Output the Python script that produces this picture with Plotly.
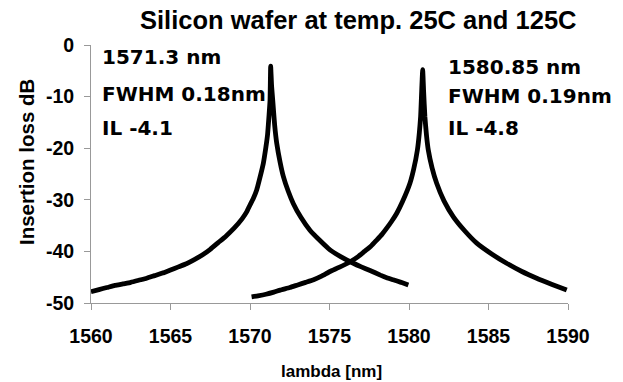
import plotly.graph_objects as go

# ---- data ----
wl_25c = [1560.0, 1560.5, 1561.0, 1561.5, 1562.0, 1562.5, 1563.0, 1563.5, 1564.0,
          1564.5, 1565.0, 1565.5, 1566.0, 1566.5, 1567.0, 1567.5, 1568.0, 1568.5,
          1569.0, 1569.5, 1569.8, 1570.0, 1570.2, 1570.42, 1570.6, 1570.84,
          1571.0, 1571.1, 1571.2, 1571.26, 1571.3,
          1571.36, 1571.43, 1571.55, 1571.68, 1571.9, 1572.1, 1572.4, 1572.72,
          1573.2, 1573.77, 1574.4, 1575.03, 1575.7, 1576.5, 1577.0, 1577.55,
          1578.2, 1578.6, 1579.0, 1579.5, 1579.96]
il_25c = [-47.8, -47.4, -47.0, -46.6, -46.3, -46.0, -45.6, -45.2, -44.7,
          -44.2, -43.6, -43.0, -42.4, -41.6, -40.7, -39.6, -38.3, -37.0,
          -35.5, -33.7, -32.3, -31.0, -29.8, -28.1, -26.0, -22.9,
          -19.8, -17.5, -13.5, -10.7, -4.1,
          -8.0, -10.7, -15.5, -19.0, -22.8, -25.5, -28.3, -30.7,
          -33.4, -35.9, -37.9, -39.7, -41.0, -42.3, -43.0, -43.7,
          -44.6, -45.1, -45.5, -46.0, -46.5]

wl_125c = [1570.1, 1570.5, 1571.0, 1571.5, 1571.9, 1572.5, 1573.0, 1573.5, 1574.0,
           1574.5, 1575.03, 1575.6, 1576.3, 1576.8, 1577.2, 1577.6, 1577.97, 1578.3,
           1578.6, 1578.9, 1579.23, 1579.6, 1580.06, 1580.3, 1580.53, 1580.65,
           1580.73, 1580.86,
           1580.92, 1581.0, 1581.1, 1581.21, 1581.45, 1581.74, 1582.2, 1582.79,
           1583.5, 1584.26, 1585.2, 1586.14, 1587.1, 1588.03, 1589.0, 1589.92]
il_125c = [-48.8, -48.6, -48.3, -47.9, -47.5, -47.0, -46.5, -46.0, -45.5,
           -44.8, -43.9, -43.1, -42.0, -41.0, -40.0, -39.0, -37.8, -36.7,
           -35.5, -34.2, -32.6, -30.3, -26.8, -24.0, -20.3, -17.0,
           -13.9, -4.8,
           -9.0, -13.9, -17.5, -20.3, -23.8, -26.8, -30.2, -33.3,
           -36.0, -38.4, -40.5, -42.3, -43.9, -45.2, -46.4, -47.5]

x_ticks = [1560, 1565, 1570, 1575, 1580, 1585, 1590]
y_ticks = [0, -10, -20, -30, -40, -50]

title_text = "Silicon wafer at temp. 25C and 125C"
x_title = "lambda [nm]"
y_title = "Insertion loss dB"
notes_left = ["1571.3 nm", "FWHM 0.18nm", "IL -4.1"]
notes_right = ["1580.85 nm", "FWHM 0.19nm", "IL -4.8"]

# ---- layout geometry (pixels) ----
W, H = 623, 382
L, R, T, B = 91, 568, 45, 303


def px(x):
    return (x - L) / (R - L)


def py(y):
    return (B - y) / (B - T)


fig = go.Figure()
for xs, ys in ((wl_25c, il_25c), (wl_125c, il_125c)):
    fig.add_trace(go.Scatter(x=xs, y=ys, mode="lines",
                             line=dict(color="black", width=4.8,
                                       shape="spline", smoothing=0.4),
                             showlegend=False, hoverinfo="skip"))

tickfont = dict(family="Liberation Sans, Arial, sans-serif", size=19.5,
                color="black")
axis_common = dict(showgrid=False, zeroline=False, showline=True,
                   linecolor="#999999", linewidth=1, ticks="outside",
                   ticklen=6, tickcolor="#999999", tickwidth=1,
                   tickfont=tickfont, fixedrange=True)

fig.update_layout(
    width=W, height=H,
    margin=dict(l=L, r=W - R, t=T, b=H - B),
    paper_bgcolor="white", plot_bgcolor="white",
    showlegend=False,
    xaxis=dict(range=[1560, 1590], tickvals=x_ticks,
               ticktext=["<b>%d</b>" % v for v in x_ticks],
               ticklabelstandoff=10, **axis_common),
    yaxis=dict(range=[-50, 0], tickvals=y_ticks,
               ticktext=["<b>%d</b>" % v for v in y_ticks],
               ticklabelstandoff=6, **axis_common),
)

ann = []
ann.append(dict(text="<b>%s</b>" % title_text, x=px(357.5), y=py(20),
                xanchor="center", yanchor="middle",
                font=dict(family="Liberation Sans, Arial, sans-serif",
                          size=25.5, color="black")))
ann.append(dict(text="<b>%s</b>" % x_title, x=px(331.5), y=py(371),
                xanchor="center", yanchor="middle",
                font=dict(family="Liberation Sans, Arial, sans-serif",
                          size=17, color="black")))
ann.append(dict(text="<b>%s</b>" % y_title, x=px(26), y=py(162),
                xanchor="center", yanchor="middle", textangle=-90,
                font=dict(family="Liberation Sans, Arial, sans-serif",
                          size=20.5, color="black")))

note_font = dict(family="DejaVu Sans, sans-serif", size=20, color="black")
for txt, yc in zip(notes_left, [57.5, 94, 127.5]):
    ann.append(dict(text="<b>%s</b>" % txt, x=px(100), y=py(yc),
                    xanchor="left", yanchor="middle", font=note_font))
for txt, yc in zip(notes_right, [66.5, 95.5, 127.5]):
    ann.append(dict(text="<b>%s</b>" % txt, x=px(446), y=py(yc),
                    xanchor="left", yanchor="middle", font=note_font))

for a in ann:
    a.update(xref="paper", yref="paper", showarrow=False)
fig.update_layout(annotations=ann)

fig.write_html("out.html", config={"displayModeBar": False})
